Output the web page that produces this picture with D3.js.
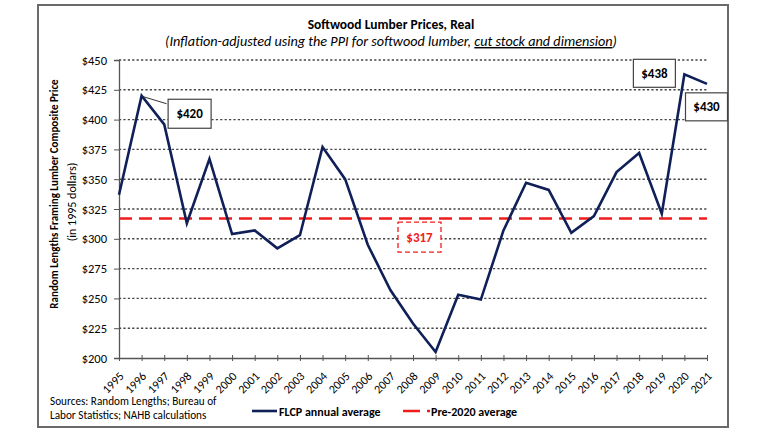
<!DOCTYPE html>
<html>
<head>
<meta charset="utf-8">
<script src="https://cdn.jsdelivr.net/npm/d3@7"></script>
<style>
  html, body { margin: 0; padding: 0; background: #fff; }
  svg { display: block; }
  text { font-family: Carlito, Lato, "Open Sans", sans-serif; fill: #000; }
</style>
</head>
<body>
<svg id="chart" width="768" height="432"></svg>
<script>
// ---- data ----
const years = [1995,1996,1997,1998,1999,2000,2001,2002,2003,2004,2005,2006,2007,2008,2009,2010,2011,2012,2013,2014,2015,2016,2017,2018,2019,2020,2021];
const flcp  = [337,420,396,313,367,304,307,292,303,377,350,295,257,229,205,253,249,307,347,341,305,319,356,372,321,438,430];
const pre2020Average = 317;
const yTicks = [200,225,250,275,300,325,350,375,400,425,450];
const titleText = "Softwood Lumber Prices, Real";
const subtitlePlain = "(Inflation-adjusted using the PPI for softwood lumber, ";
const subtitleUnderlined = "cut stock and dimension";
const subtitleEnd = ")";
const yTitle1 = "Random Lengths Framing Lumber Composite Price";
const yTitle2 = "(in 1995 dollars)";
const sourceLines = ["Sources: Random Lengths; Bureau of", "Labor Statistics; NAHB calculations"];
const legendLabels = ["FLCP annual average", "Pre-2020 average"];

// ---- setup ----
const svg = d3.select("#chart");
const navy = "#0f1f57";
const red = "#f01c1c";
const FONT = "Carlito, Lato, 'Open Sans', sans-serif";

const x = d3.scaleLinear().domain([1995, 2021]).range([119, 707]);
const y = d3.scaleLinear().domain([200, 450]).range([358, 60]);

// frame
svg.append("rect").attr("x", 38).attr("y", 5).attr("width", 690).attr("height", 422)
  .attr("fill", "#fff").attr("stroke", "#6a6a6a").attr("stroke-width", 2);

// title
svg.append("text").attr("x", 391).attr("y", 29).attr("text-anchor", "middle")
  .attr("font-size", 13.5).attr("font-weight", "bold").text(titleText);
const sub = svg.append("text").attr("x", 391).attr("y", 46).attr("text-anchor", "middle")
  .attr("font-size", 14.2).attr("font-style", "italic");
sub.append("tspan").text(subtitlePlain);
sub.append("tspan").attr("text-decoration", "underline").text(subtitleUnderlined);
sub.append("tspan").text(subtitleEnd);

// gridlines
svg.append("g").selectAll("line").data(yTicks.filter(d => d > 200)).join("line")
  .attr("x1", 119).attr("x2", 707)
  .attr("y1", d => y(d)).attr("y2", d => y(d))
  .attr("stroke", "#444").attr("stroke-width", 1.4).attr("stroke-dasharray", "2.2,2.2");

// y axis
const yAxis = d3.axisLeft(y).tickValues(yTicks).tickFormat(d => "$" + d).tickSize(5).tickPadding(7);
const gy = svg.append("g").attr("transform", "translate(119,0)").call(yAxis);
gy.select(".domain").attr("stroke", "#555").attr("stroke-width", 1.3);
gy.selectAll(".tick line").attr("stroke", "#555");
gy.selectAll(".tick text").attr("font-size", 12.5).attr("fill", "#000").style("font-family", FONT);

// x axis
const xAxis = d3.axisBottom(x).tickValues(years).tickFormat(d => String(d)).tickSize(3).tickSizeOuter(0);
const gx = svg.append("g").attr("transform", "translate(0,358)").call(xAxis);
gx.select(".domain").attr("stroke", "#555").attr("stroke-width", 1.3);
gx.selectAll(".tick line").attr("stroke", "#555").attr("y1", -3);
gx.selectAll(".tick text").attr("font-size", 12).attr("fill", "#000").style("font-family", FONT)
  .attr("text-anchor", "end").attr("dy", null).attr("y", 0)
  .attr("transform", "translate(5,19) rotate(-45)");

// y axis title
svg.append("text").attr("transform", "translate(58,194) rotate(-90)").attr("text-anchor", "middle")
  .attr("font-size", 11).attr("font-weight", "bold").text(yTitle1);
svg.append("text").attr("transform", "translate(76,202) rotate(-90)").attr("text-anchor", "middle")
  .attr("font-size", 12).text(yTitle2);

// average line
svg.append("line").attr("x1", 119).attr("x2", 707)
  .attr("y1", y(pre2020Average)).attr("y2", y(pre2020Average))
  .attr("stroke", red).attr("stroke-width", 2.6).attr("stroke-dasharray", "13,7");

// main line
const line = d3.line().x((d, i) => x(years[i])).y(d => y(d));
svg.append("path").datum(flcp).attr("d", line).attr("fill", "none")
  .attr("stroke", navy).attr("stroke-width", 2.6).attr("stroke-linejoin", "miter");

// callout boxes
function box(cx, cy, w, h, label, opts) {
  const g = svg.append("g");
  g.append("rect").attr("x", cx - w / 2).attr("y", cy - h / 2).attr("width", w).attr("height", h)
    .attr("fill", "#fff").attr("stroke", opts.stroke).attr("stroke-width", opts.sw)
    .attr("stroke-dasharray", opts.dash || null);
  g.append("text").attr("x", cx).attr("y", cy + 4.5).attr("text-anchor", "middle")
    .attr("font-size", 13).attr("font-weight", "bold").style("fill", opts.color).text(label);
}
const v = yr => flcp[years.indexOf(yr)];
// $420 with leader line
svg.append("line").attr("x1", x(1996) + 2).attr("y1", y(v(1996)) + 1)
  .attr("x2", x(1996) + 25).attr("y2", y(v(1996)) + 8).attr("stroke", "#333").attr("stroke-width", 1);
box(x(1996) + 48, y(v(1996)) + 18, 43, 29, "$" + v(1996), { stroke: "#444", sw: 1.2, color: "#000" });
box(x(2020) - 30, y(v(2020)) - 1, 42, 28, "$" + v(2020), { stroke: "#444", sw: 1.2, color: "#000" });
box(x(2021) - 0.5, y(v(2021)) + 23, 42, 28, "$" + v(2021), { stroke: "#444", sw: 1.2, color: "#000" });
box(x(2008) + 6.5, y(pre2020Average) + 18.5, 43, 30, "$" + pre2020Average, { stroke: red, sw: 1.3, color: red, dash: "5,3" });

// sources
svg.append("text").attr("x", 50).attr("y", 405).attr("font-size", 11.2)
  .selectAll("tspan").data(sourceLines).join("tspan")
  .attr("x", 50).attr("dy", (d, i) => i === 0 ? 0 : 14).text(d => d);

// legend
svg.append("line").attr("x1", 252).attr("x2", 277).attr("y1", 411).attr("y2", 411)
  .attr("stroke", navy).attr("stroke-width", 2.6);
svg.append("text").attr("x", 279).attr("y", 415.5).attr("font-size", 12).attr("font-weight", "bold").text(legendLabels[0]);
svg.append("line").attr("x1", 403).attr("x2", 430).attr("y1", 411).attr("y2", 411)
  .attr("stroke", red).attr("stroke-width", 2.6).attr("stroke-dasharray", "17,7");
svg.append("text").attr("x", 431).attr("y", 415.5).attr("font-size", 12).attr("font-weight", "bold").text(legendLabels[1]);
</script>
</body>
</html>
